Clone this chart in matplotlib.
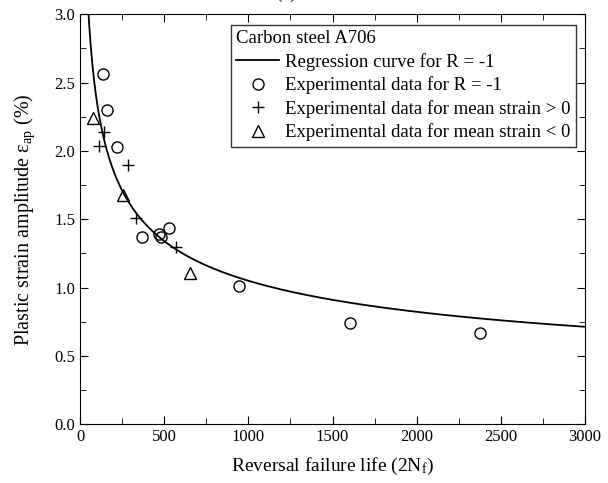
import numpy as np
import matplotlib.pyplot as plt

plt.rcParams['font.family'] = ['Liberation Serif', 'DejaVu Serif']
plt.rcParams['mathtext.fontset'] = 'custom'
plt.rcParams['mathtext.rm'] = 'Liberation Serif'
plt.rcParams['mathtext.it'] = 'Liberation Serif:italic'

#*--data--------------------------------------------------------------------
# R = -1 (circles)
n_r1 = [135, 159, 218, 367, 472, 482, 530, 945, 1603, 2377]
e_r1 = [2.56, 2.30, 2.03, 1.37, 1.39, 1.37, 1.44, 1.01, 0.74, 0.67]
# mean strain > 0 (plus)
n_pos = [115, 143, 286, 331, 570]
e_pos = [2.04, 2.14, 1.90, 1.51, 1.30]
# mean strain < 0 (triangles)
n_neg = [79, 258, 651]
e_neg = [2.24, 1.68, 1.11]

# regression curve for R = -1 : eps = A * (2Nf)^B
A = 11.95
B = -0.352

x_fit = np.linspace(40, 3000, 600)
y_fit = A * x_fit ** B

fig = plt.figure(figsize=(6.08, 4.83), dpi=100)
ax = fig.add_axes([0.1316, 0.1215, 0.8306, 0.8489])

ax.plot(x_fit, y_fit, color='black', lw=1.3, label='Regression curve for R = -1')
ax.plot(n_r1, e_r1, 'o', mfc='none', mec='black', ms=8, mew=1.0, ls='none',
        label='Experimental data for R = -1')
ax.plot(n_pos, e_pos, '+', color='black', ms=9, mew=1.0, ls='none',
        label='Experimental data for mean strain > 0')
ax.plot(n_neg, e_neg, '^', mfc='none', mec='black', ms=8.5, mew=1.0, ls='none',
        label='Experimental data for mean strain < 0')

ax.set_xlim(0, 3000)
ax.set_ylim(0, 3.0)
ax.set_xticks(np.arange(0, 3001, 500))
ax.set_xticks(np.arange(0, 3001, 250), minor=True)
ax.set_yticks(np.arange(0, 3.01, 0.5))
ax.set_yticks(np.arange(0, 3.01, 0.25), minor=True)
ax.yaxis.set_major_formatter(plt.FormatStrFormatter('%.1f'))
ax.tick_params(which='both', direction='in', top=True, right=True, labelsize=12)
ax.tick_params(which='major', length=6)
ax.tick_params(which='minor', length=4)

ax.set_xlabel('Reversal failure life (2N$_{\\mathrm{f}}$)', fontsize=14, labelpad=8)
ax.set_ylabel('Plastic strain amplitude ε$_{\\mathrm{ap}}$ (%)', fontsize=14.5, labelpad=12)

leg = ax.legend(title='Carbon steel A706', loc='upper left', bbox_to_anchor=(0.298, 0.975),
                fontsize=13.5, title_fontsize=13.5, frameon=True, fancybox=False,
                edgecolor='black', handlelength=2.3, handletextpad=0.3,
                borderpad=0.3, labelspacing=0.3, borderaxespad=0, alignment='left')
leg.get_frame().set_linewidth(1.0)

fig.text(0.47, 1.004, '(a)', fontsize=14, ha='center', va='baseline')

fig.savefig('out.png', dpi=100)
